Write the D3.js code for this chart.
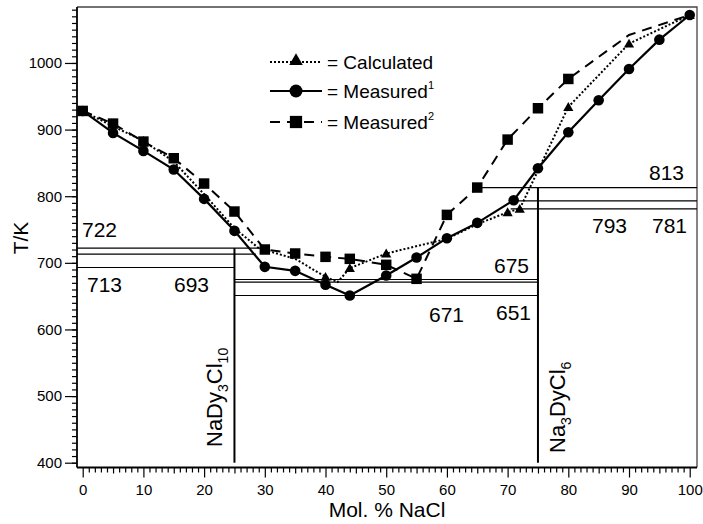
<!DOCTYPE html>
<html>
<head>
<meta charset="utf-8">
<script src="https://cdn.jsdelivr.net/npm/d3@7"></script>
<style>
body { margin: 0; background: #fff; }
text { font-family: "Liberation Sans", Arial, Helvetica, sans-serif; fill: #000; }
</style>
</head>
<body>
<svg id="chart" width="703" height="524"></svg>
<script>
// calculated liquidus (dotted, triangles)
var calcX = [0, 5, 10, 15, 20, 25, 29, 35, 40, 42, 44, 50, 60, 65, 70, 72, 80, 90, 100];
var calcT = [928, 905, 883, 852, 803, 752, 722, 706, 679, 671, 692, 714, 736, 758, 776, 781, 934, 1029, 1072];
var calcMark = [1, 0, 1, 0, 0, 0, 0, 0, 1, 0, 1, 1, 0, 0, 1, 1, 1, 1, 1];

// measured 1 (solid, circles)
var meas1X = [0, 5, 10, 15, 20, 25, 30, 35, 40, 44, 50, 55, 60, 65, 71, 75, 80, 85, 90, 95, 100];
var meas1T = [928, 895, 868, 840, 796, 748, 694, 688, 667, 651, 681, 708, 737, 760, 794, 842, 896, 944, 991, 1035, 1072];

// measured 2 (dashed, squares)
var meas2X = [0, 5, 10, 15, 20, 25, 30, 35, 40, 44, 50, 55, 60, 65, 70, 75, 80, 90, 100];
var meas2T = [928, 909, 882, 857, 819, 777, 720, 714, 709, 706, 697, 676, 772, 813, 885, 932, 976, 1042, 1072];
var meas2Mark = [1, 1, 1, 1, 1, 1, 1, 1, 1, 1, 1, 1, 1, 1, 1, 1, 1, 0, 0];

// phase lines: temperature, from x, to x
var lineT  = [722, 713, 693, 675, 671, 651, 813, 793, 781];
var lineX0 = [-0.94, -0.94, -0.94, 25, 25, 25, 65.5, 71, 70.5];
var lineX1 = [29.5, 28.5, 25, 75, 75, 75, 101.2, 101.2, 101.2];

// compounds (vertical lines)
var compX = [25, 75];
var compTop = [722, 813];

var xTicks = [0, 10, 20, 30, 40, 50, 60, 70, 80, 90, 100];
var yTicks = [400, 500, 600, 700, 800, 900, 1000];

var svg = d3.select("#chart");

var x = d3.scaleLinear().domain([-0.94, 101.2]).range([77, 697]);
var y = d3.scaleLinear().domain([392.8, 1084]).range([467.5, 7]);

// frame
svg.append("path")
    .attr("d", "M77,7H697V467.5")
    .attr("fill", "none").attr("stroke", "#444").attr("stroke-width", 1.3);

// axes
var gx = svg.append("g").attr("transform", "translate(0,467.5)");
gx.call(d3.axisBottom(x).tickValues(d3.range(0, 101, 1).filter(function(d) { return d % 5 != 0; }))
    .tickSize(5).tickFormat(""));
gx.append("g").call(d3.axisBottom(x).tickValues(d3.range(5, 100, 10)).tickSize(6).tickFormat(""));
gx.append("g").call(d3.axisBottom(x).tickValues(xTicks).tickSize(10).tickPadding(7).tickFormat(d3.format("d")));
gx.selectAll(".domain").remove();
gx.append("line").attr("x1", 77).attr("x2", 697).attr("stroke", "#000").attr("stroke-width", 1.8);

var gy = svg.append("g").attr("transform", "translate(77,0)");
gy.call(d3.axisLeft(y).tickValues(d3.range(400, 1081, 10)).tickSize(5).tickFormat(""));
gy.append("g").call(d3.axisLeft(y).tickValues(yTicks).tickSize(12).tickPadding(3).tickFormat(d3.format("d")));
gy.selectAll(".domain").remove();
gy.append("line").attr("y1", 7).attr("y2", 467.5).attr("stroke", "#000").attr("stroke-width", 1.8);

svg.selectAll(".tick line").attr("stroke", "#000").attr("stroke-width", 1.2);
svg.selectAll(".tick text").style("font-size", "15px")
    .style("font-family", "'Liberation Sans', Arial, Helvetica, sans-serif");

// phase lines
svg.append("g").selectAll("line").data(lineT).enter().append("line")
    .attr("x1", function(d, i) { return x(lineX0[i]); })
    .attr("x2", function(d, i) { return x(lineX1[i]); })
    .attr("y1", function(d) { return y(d); })
    .attr("y2", function(d) { return y(d); })
    .attr("stroke", "#000").attr("stroke-width", 1.2);

svg.append("g").selectAll("line").data(compX).enter().append("line")
    .attr("x1", function(d) { return x(d); })
    .attr("x2", function(d) { return x(d); })
    .attr("y1", function(d, i) { return y(compTop[i]); })
    .attr("y2", y(400))
    .attr("stroke", "#000").attr("stroke-width", 2);

// series lines
function pts(xs, ts) { return xs.map(function(d, i) { return [x(d), y(ts[i])]; }); }
var line = d3.line();

svg.append("path").attr("d", line(pts(calcX, calcT)))
    .attr("fill", "none").attr("stroke", "#000").attr("stroke-width", 2).attr("stroke-dasharray", "2,2");
svg.append("path").attr("d", line(pts(meas2X, meas2T)))
    .attr("fill", "none").attr("stroke", "#000").attr("stroke-width", 2).attr("stroke-dasharray", "10,7");
svg.append("path").attr("d", line(pts(meas1X, meas1T)))
    .attr("fill", "none").attr("stroke", "#000").attr("stroke-width", 2.2);

// markers
var tri = d3.symbol().type(d3.symbolTriangle).size(45);
var sq = d3.symbol().type(d3.symbolSquare).size(110);

svg.append("g").selectAll("path").data(meas2X.filter(function(d, i) { return meas2Mark[i]; }))
    .enter().append("path")
    .attr("d", sq)
    .attr("transform", function(d) { return "translate(" + x(d) + "," + y(meas2T[meas2X.indexOf(d)]) + ")"; });

svg.append("g").selectAll("path").data(calcX.filter(function(d, i) { return calcMark[i]; }))
    .enter().append("path")
    .attr("d", tri)
    .attr("transform", function(d) { return "translate(" + x(d) + "," + (y(calcT[calcX.indexOf(d)]) + 1) + ")"; });

svg.append("g").selectAll("circle").data(meas1X).enter().append("circle")
    .attr("cx", function(d) { return x(d); })
    .attr("cy", function(d, i) { return y(meas1T[i]); })
    .attr("r", 5.3);

// value labels
var labelPos = [[82, 237], [87, 292], [174, 292], [494, 273], [429, 322], [496, 320], [649, 180], [592, 233], [652, 233]];
svg.append("g").selectAll("text").data(lineT).enter().append("text")
    .attr("x", function(d, i) { return labelPos[i][0]; })
    .attr("y", function(d, i) { return labelPos[i][1]; })
    .style("font-size", "21px")
    .text(function(d) { return d; });

// compound names, subscripts dropped below the baseline
function compound(px, py, parts) {
    var t = svg.append("text")
        .attr("transform", "translate(" + px + "," + py + ") rotate(-90)")
        .style("font-size", "22px");
    var low = false;
    parts.forEach(function(p) {
        var dy = 0;
        if (p[1] && !low) { dy = 6; low = true; }
        else if (!p[1] && low) { dy = -6; low = false; }
        t.append("tspan").attr("dy", dy).style("font-size", p[1] ? "14px" : "22px").text(p[0]);
    });
}
compound(222, 447, [["NaDy", 0], ["3", 1], ["Cl", 0], ["10", 1]]);
compound(565, 453, [["Na", 0], ["3", 1], ["DyCl", 0], ["6", 1]]);

// axis titles
svg.append("text")
    .attr("transform", "translate(28,238) rotate(-90)")
    .attr("text-anchor", "middle")
    .style("font-size", "21px")
    .text("T/K");
svg.append("text")
    .attr("x", 387).attr("y", 517)
    .attr("text-anchor", "middle")
    .style("font-size", "21px")
    .text("Mol. % NaCl");

// legend
var legY = [62, 91, 122];
var legName = ["Calculated", "Measured", "Measured"];
var legSup = ["", "1", "2"];
var legDash = ["2,2", null, "10,7"];
var leg = svg.append("g");
legY.forEach(function(ly, i) {
    leg.append("line").attr("x1", 270).attr("x2", 322).attr("y1", ly).attr("y2", ly)
        .attr("stroke", "#000").attr("stroke-width", 2).attr("stroke-dasharray", legDash[i]);
    if (i == 0) leg.append("path").attr("d", d3.symbol().type(d3.symbolTriangle).size(80)).attr("transform", "translate(296," + (ly - 1) + ")");
    if (i == 1) leg.append("circle").attr("cx", 296).attr("cy", ly).attr("r", 6.5);
    if (i == 2) leg.append("path").attr("d", d3.symbol().type(d3.symbolSquare).size(150)).attr("transform", "translate(296," + ly + ")");
    var t = leg.append("text").attr("x", 327).attr("y", ly + 7).style("font-size", "19px");
    t.append("tspan").text("= " + legName[i]);
    if (legSup[i]) t.append("tspan").attr("dy", -9).style("font-size", "11px").text(legSup[i]);
});
</script>
</body>
</html>
